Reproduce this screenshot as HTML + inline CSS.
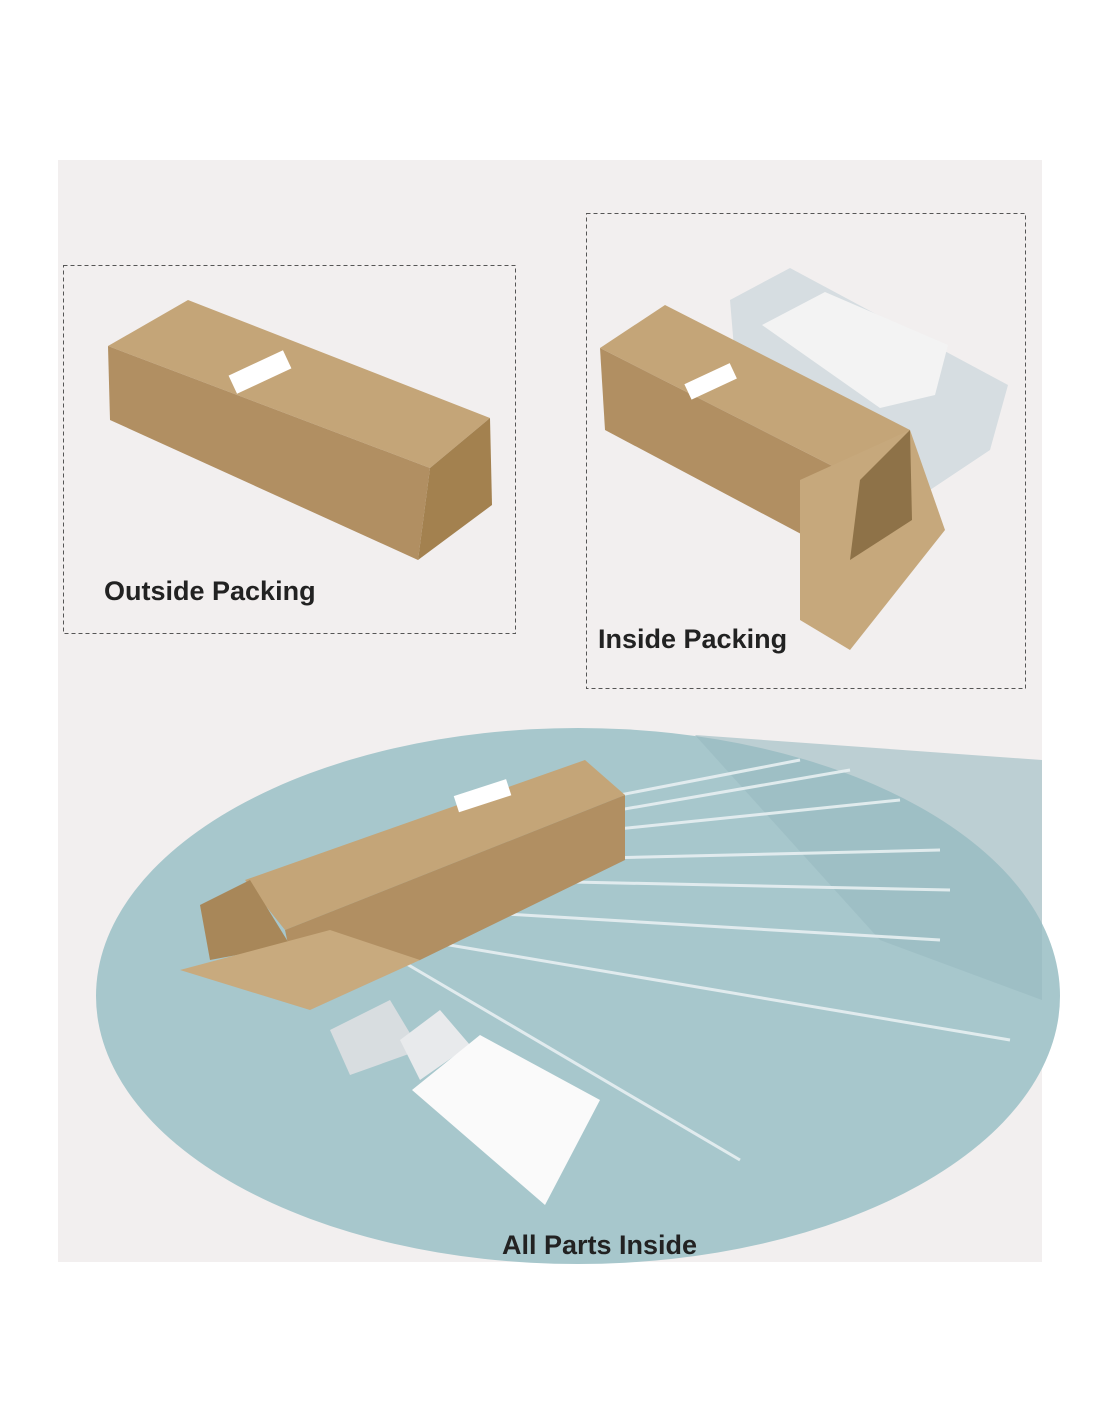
<!DOCTYPE html>
<html><head><style>
html,body{margin:0;padding:0;background:#fff;width:1100px;height:1422px;overflow:hidden}
text{font-family:"Liberation Sans",sans-serif;font-weight:bold;fill:#222}
</style></head><body>
<svg width="1100" height="1422" viewBox="0 0 1100 1422" xmlns="http://www.w3.org/2000/svg">
<rect x="58" y="160" width="984" height="1102" fill="#f2efef"/>
<!-- outside packing -->
<rect x="63.5" y="265.5" width="452" height="368" fill="none" stroke="#555" stroke-dasharray="4,3"/>
<polygon points="108,346 188,300 490,418 430,468" fill="#c4a578"/>
<polygon points="108,346 430,468 418,560 110,420" fill="#b18f62"/>
<polygon points="430,468 490,418 492,505 418,560" fill="#a3814f"/>
<rect x="230" y="362" width="60" height="20" fill="#fff" transform="rotate(-25 260 372)"/>
<text x="104" y="600" font-size="27">Outside Packing</text>
<!-- inside packing -->
<rect x="586.5" y="213.5" width="439" height="475" fill="none" stroke="#555" stroke-dasharray="4,3"/>
<polygon points="730,300 790,268 1008,385 990,450 915,500 740,420" fill="#d6dde1"/>
<polygon points="762,325 825,292 948,345 935,395 880,408" fill="#f3f3f3"/>
<polygon points="600,348 665,305 910,430 860,480" fill="#c4a578"/>
<polygon points="600,348 860,480 850,560 605,430" fill="#b18f62"/>
<polygon points="800,480 910,430 945,530 850,650 800,620" fill="#c6a87c"/>
<polygon points="860,480 910,430 912,520 850,560" fill="#8e7248"/>
<rect x="685" y="373" width="50" height="17" fill="#fff" transform="rotate(-25 710 380)"/>
<text x="598" y="648" font-size="27">Inside Packing</text>
<!-- all parts -->
<ellipse cx="578" cy="996" rx="482" ry="268" fill="#a7c7cc"/>
<polygon points="695,735 1042,760 1042,1000 880,940" fill="#97b9c0" opacity="0.6"/>
<g stroke="#e8f0f2" stroke-width="3" fill="none" opacity="0.9">
<line x1="420" y1="940" x2="1010" y2="1040"/>
<line x1="400" y1="960" x2="740" y2="1160"/>
<line x1="440" y1="910" x2="940" y2="940"/>
<line x1="480" y1="880" x2="950" y2="890"/>
<line x1="520" y1="860" x2="940" y2="850"/>
<line x1="560" y1="835" x2="900" y2="800"/>
<line x1="590" y1="815" x2="850" y2="770"/>
<line x1="620" y1="795" x2="800" y2="760"/>
</g>
<polygon points="245,880 585,760 625,795 285,930" fill="#c4a578"/>
<polygon points="285,930 625,795 625,860 420,960 300,1000" fill="#b18f62"/>
<polygon points="200,905 250,880 290,945 210,960" fill="#a88759"/>
<polygon points="180,970 330,930 420,960 310,1010" fill="#c8aa7e"/>
<rect x="455" y="788" width="55" height="17" fill="#fff" transform="rotate(-18 480 796)"/>
<polygon points="330,1030 390,1000 420,1050 350,1075" fill="#d8dde0"/>
<polygon points="400,1040 440,1010 470,1045 420,1080" fill="#e8eaec"/>
<polygon points="412,1090 480,1035 600,1100 545,1205" fill="#fafafa"/>
<text x="502" y="1254" font-size="27">All Parts Inside</text>
</svg>
</body></html>
